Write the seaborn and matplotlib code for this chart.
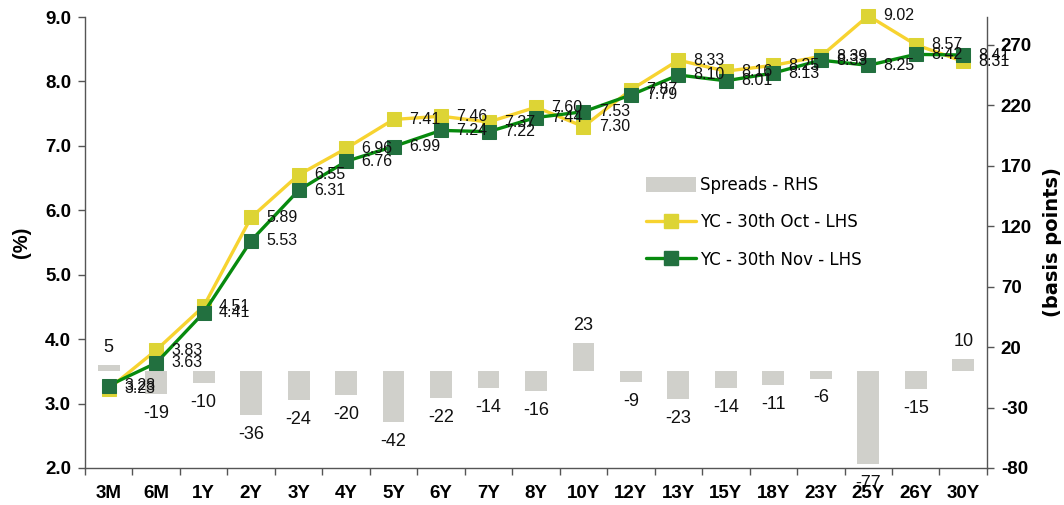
import matplotlib
matplotlib.use("Agg")
import matplotlib.pyplot as plt
from matplotlib.patches import Patch
from matplotlib.lines import Line2D
from matplotlib.ticker import FixedLocator, NullFormatter
import seaborn as sns
import pandas as pd

tenors = ["3M", "6M", "1Y", "2Y", "3Y", "4Y", "5Y", "6Y", "7Y", "8Y", "10Y",
          "12Y", "13Y", "15Y", "18Y", "23Y", "25Y", "26Y", "30Y"]
yc_oct = [3.23, 3.83, 4.51, 5.89, 6.55, 6.96, 7.41, 7.46, 7.37, 7.60, 7.30,
          7.87, 8.33, 8.16, 8.25, 8.39, 9.02, 8.57, 8.31]
yc_nov = [3.28, 3.63, 4.41, 5.53, 6.31, 6.76, 6.99, 7.24, 7.22, 7.44, 7.53,
          7.79, 8.10, 8.01, 8.13, 8.33, 8.25, 8.42, 8.41]
spreads = [5, -19, -10, -36, -24, -20, -42, -22, -14, -16, 23, -9, -23, -14,
           -11, -6, -77, -15, 10]

lbl_spread = "Spreads - RHS"
lbl_oct = "YC - 30th Oct - LHS"
lbl_nov = "YC - 30th Nov - LHS"

sns.set_theme(style="white")
plt.rcParams["font.family"] = ["Liberation Sans", "DejaVu Sans"]

df = pd.DataFrame({"tenor": tenors, "oct": yc_oct, "nov": yc_nov, "spread": spreads})

fig = plt.figure(figsize=(10.64, 5.05), dpi=100)
ax = fig.add_axes([0.0799, 0.0733, 0.8477, 0.893])
ax2 = ax.twinx()

bar_color = "#D0D0CB"
oct_line, oct_mk = "#F7D330", "#DDD435"
nov_line, nov_mk = "#078A0E", "#22703F"

sns.barplot(data=df, x="tenor", y="spread", order=tenors, ax=ax2,
            color=bar_color, width=0.46, saturation=1, linewidth=0)

sns.lineplot(data=df, x="tenor", y="oct", ax=ax, sort=False, color=oct_line,
             linewidth=2.4, marker="s", markersize=9.5, markerfacecolor=oct_mk,
             markeredgecolor=oct_mk, clip_on=False)
sns.lineplot(data=df, x="tenor", y="nov", ax=ax, sort=False, color=nov_line,
             linewidth=2.4, marker="s", markersize=9.5, markerfacecolor=nov_mk,
             markeredgecolor=nov_mk, clip_on=False)

ax.set_zorder(ax2.get_zorder() + 1)
ax.patch.set_visible(False)

# point labels
for i, (o, n) in enumerate(zip(yc_oct, yc_nov)):
    ax.annotate(f"{o:.2f}", (i, o), xytext=(11, 0), textcoords="offset points",
                ha="left", va="center", fontsize=11.5, color="#111111", zorder=5,
                annotation_clip=False)
    ax.annotate(f"{n:.2f}", (i, n), xytext=(11, 0), textcoords="offset points",
                ha="left", va="center", fontsize=11.5, color="#111111", zorder=5,
                annotation_clip=False)

for i, s in enumerate(spreads):
    off = 13 if s >= 0 else -14
    ax2.annotate(f"{s}", (i, s), xytext=(0, off), textcoords="offset points",
                 ha="center", va="center", fontsize=13, color="#111111",
                 annotation_clip=False)

# axes limits & ticks
ax.set_xlim(-0.5, len(tenors) - 0.5)
ax.set_ylim(2.0, 9.0)
lticks = [2, 3, 4, 5, 6, 7, 8, 9]
ax.set_yticks(lticks)
ax.set_yticklabels([f"{v:.1f}" for v in lticks], fontsize=13.5, fontweight="bold",
                   color="black")
ax2.set_ylim(-80, 293)
rticks = [-80, -30, 20, 70, 120, 170, 220, 270]
ax2.set_yticks(rticks)
ax2.set_yticklabels([str(v) for v in rticks], fontsize=13.5, fontweight="bold",
                    color="black")

ax.set_xticks(range(len(tenors)))
ax.set_xticklabels(tenors, fontsize=13.5, fontweight="bold", color="black")
ax.xaxis.set_minor_locator(FixedLocator([i + 0.5 for i in range(-1, len(tenors))]))
ax.xaxis.set_minor_formatter(NullFormatter())
ax.tick_params(axis="x", which="major", length=0, pad=12)
ax.tick_params(axis="x", which="minor", length=5, width=1, color="#555555",
               direction="out", bottom=True)
ax.tick_params(axis="y", length=5, width=1, color="#555555", direction="out",
               left=True, pad=5)
ax2.tick_params(axis="y", length=5, width=1, color="#555555", direction="out",
                right=True, pad=5)

ax.set_xlabel("")
ax.set_ylabel("(%)", fontsize=14.5, fontweight="bold", labelpad=10, color="black")
ax2.set_ylabel("(basis points)", fontsize=14, fontweight="bold", labelpad=8,
               family=["DejaVu Sans"], color="black")
ax2.set_xlabel("")

for a in (ax, ax2):
    a.spines["top"].set_visible(False)
    for sp in ("left", "right", "bottom"):
        a.spines[sp].set_color("#555555")
        a.spines[sp].set_linewidth(1)
ax.spines["right"].set_visible(False)
ax2.spines["left"].set_visible(False)
ax2.spines["bottom"].set_visible(False)
ax.grid(False)
ax2.grid(False)

handles = [
    Patch(facecolor=bar_color, edgecolor="none", label=lbl_spread),
    Line2D([], [], color=oct_line, lw=2.4, marker="s", markersize=9.5,
           markerfacecolor=oct_mk, markeredgecolor=oct_mk, label=lbl_oct),
    Line2D([], [], color=nov_line, lw=2.4, marker="s", markersize=9.5,
           markerfacecolor=nov_mk, markeredgecolor=nov_mk, label=lbl_nov),
]
leg = ax.legend(handles=handles, loc="upper left", bbox_to_anchor=(0.605, 0.68),
                frameon=False, prop={"family": "DejaVu Sans", "size": 12},
                handlelength=3.0, handleheight=1.0, labelspacing=1.15,
                handletextpad=0.25)
for t in leg.get_texts():
    t.set_color("black")

fig.savefig("out.png", dpi=100)
